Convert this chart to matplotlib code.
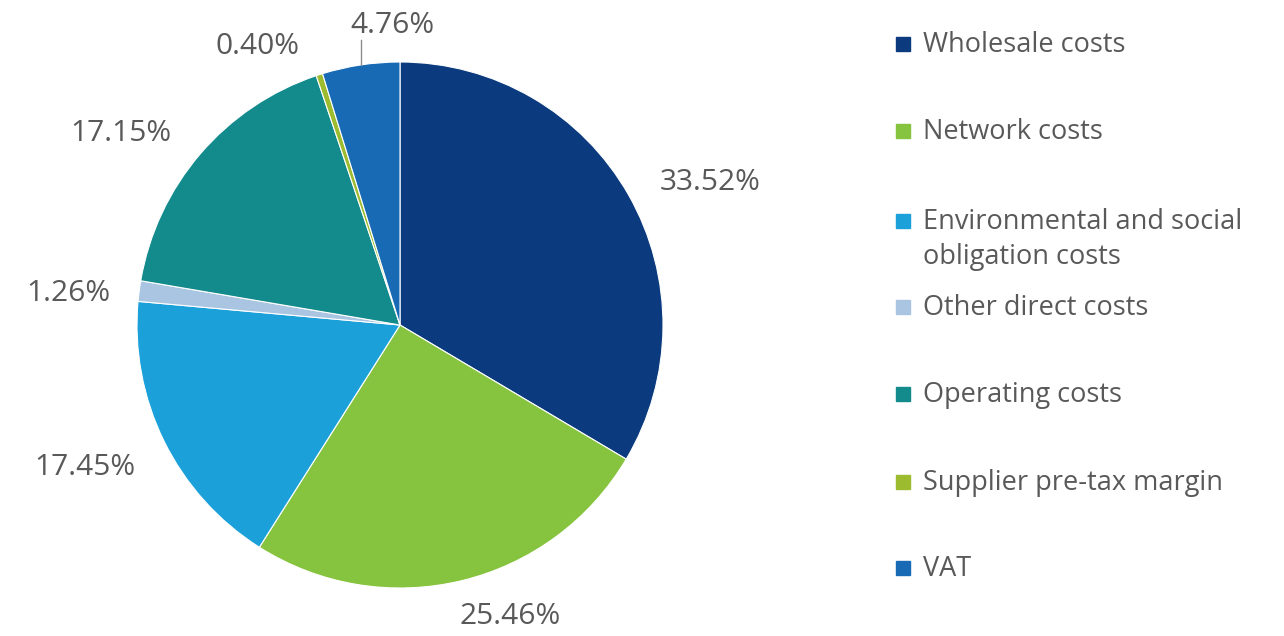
import matplotlib.pyplot as plt
import numpy as np

plt.rcParams["font.family"] = ["Open Sans", "DejaVu Sans"]

categories = [
    "Wholesale costs",
    "Network costs",
    "Environmental and social\nobligation costs",
    "Other direct costs",
    "Operating costs",
    "Supplier pre-tax margin",
    "VAT",
]
shares = [33.52, 25.46, 17.45, 1.26, 17.15, 0.40, 4.76]
colors = ["#0b3b7e", "#86c440", "#1ba0da", "#a9c5e2", "#138a8c", "#9dbb2e", "#186ab5"]

# label centres in units of the pie radius (Excel "best fit" style placement)
label_xy = [(1.18, 0.54), (0.42, -1.11), (-1.20, -0.54), (-1.26, 0.12),
            (-1.06, 0.73), (-0.54, 1.06), (-0.03, 1.14)]

W, H = 1284, 636
fig = plt.figure(figsize=(W / 100, H / 100), dpi=100)

cx, cy, r = 400, 325, 263
ax = fig.add_axes([(cx - r) / W, (H - cy - r) / H, 2 * r / W, 2 * r / H])
wedges, _ = ax.pie(shares, colors=colors, startangle=90, counterclock=False,
                   radius=1, wedgeprops=dict(edgecolor="white", linewidth=0.8))
ax.set_xlim(-1, 1)
ax.set_ylim(-1, 1)

text_color = "#595959"
for share, (lx, ly) in zip(shares, label_xy):
    ax.text(lx, ly, f"{share:.2f}%", ha="center", va="center",
            fontsize=21.5, color=text_color, clip_on=False)

# leader line for the VAT label
vat = wedges[-1]
mid = np.deg2rad((vat.theta1 + vat.theta2) / 2)
x_edge = np.cos(mid)
ax.plot([x_edge, x_edge], [np.sin(mid), 1.084], color="#8c8c8c", lw=1, clip_on=False)

# legend drawn by hand so rows keep an even pitch
row_y = [44, 131, 221, 307, 394, 482, 568]
for name, col, y in zip(categories, colors, row_y):
    fig.patches.append(plt.Rectangle((896 / W, 1 - (y + 7) / H), 14 / W, 14 / H,
                                     transform=fig.transFigure, color=col))
    fig.text(923 / W, 1 - (y - 13) / H, name, ha="left", va="top",
             fontsize=19.5, color=text_color, linespacing=1.32)

fig.savefig("out.png", dpi=100, facecolor="white")
